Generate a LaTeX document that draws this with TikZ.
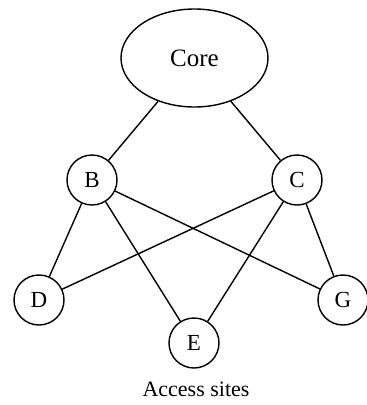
\documentclass[tikz,border=0pt]{standalone}
\usepackage{fontspec}
\setmainfont{Liberation Serif}
\usetikzlibrary{shapes.geometric}
\begin{document}
\begin{tikzpicture}[x=1pt,y=-1pt,
  site/.style={circle,draw,line width=1.4pt,minimum size=50pt,inner sep=0pt,font=\fontsize{23}{26}\selectfont},
  link/.style={line width=1.4pt}]
\useasboundingbox (0,0) rectangle (367,405);
\node[ellipse,draw,line width=1.4pt,minimum width=147pt,minimum height=98pt,inner sep=0pt,font=\fontsize{25}{28}\selectfont] (core) at (194.5,58) {Core};
\node[site] (B) at (92,180) {B};
\node[site] (C) at (297,180) {C};
\node[site] (D) at (39,300) {D};
\node[site] (G) at (343,300) {G};
\node[site] (E) at (194,343) {E};
\node[font=\fontsize{22}{25}\selectfont] (lab) at (196,389) {Access sites};
\draw[link] (core) -- (B);
\draw[link] (core) -- (C);
\draw[link] (B) -- (D);
\draw[link] (B) -- (E);
\draw[link] (B) -- (G);
\draw[link] (C) -- (D);
\draw[link] (C) -- (E);
\draw[link] (C) -- (G);
\end{tikzpicture}
\end{document}
